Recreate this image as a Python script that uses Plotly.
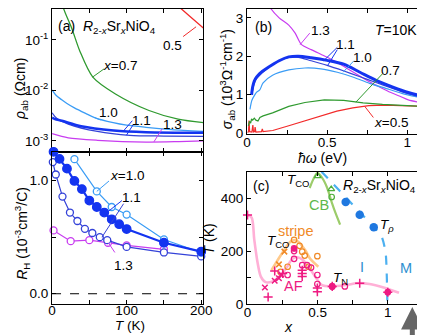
import math
import plotly.graph_objects as go

# ---------------- Panel (a): rho_ab vs T (log) ----------------
T_a05 = [168, 185, 204]
rho_a05 = [0.48, 0.29, 0.165]
T_a07 = [10, 15.6, 26.5, 37.3, 54.7, 85, 130, 169, 203]
rho_a07 = [0.9, 0.41, 0.168, 0.0598, 0.0183, 0.0085, 0.0040, 0.0027, 0.0023]
T_a10 = [0, 5, 13, 20, 30, 45, 57, 82, 100, 126, 160, 203]
rho_a10 = [0.0102, 0.0081, 0.0065, 0.0055, 0.0045, 0.0035, 0.0029, 0.0023, 0.00205, 0.00186, 0.00168, 0.00154]
T_a11a = [0, 4, 13, 39, 82.5, 126, 203]
rho_a11a = [0.0029, 0.0027, 0.00251, 0.00195, 0.00161, 0.00149, 0.00145]
T_a11b = [0, 6.5, 21.7, 60.8, 104, 150, 203]
rho_a11b = [0.00361, 0.00277, 0.00216, 0.00154, 0.00129, 0.00125, 0.00123]
T_a13 = [0, 21.7, 60.8, 126, 170, 203]
rho_a13 = [0.00139, 0.00115, 0.00103, 0.00095, 0.00097, 0.00100]

# ---------------- Panel (RH): Hall coefficient vs T ----------------
T_h10 = [30, 60, 80, 100, 150, 200]
RH_10 = [1.19, 0.905, 0.767, 0.70, 0.48, 0.365]
T_h11a = [2, 10, 20, 30, 40, 50, 60, 70, 80, 90, 100, 150, 200]
RH_11a = [1.255, 1.192, 1.106, 0.997, 0.925, 0.824, 0.767, 0.718, 0.658, 0.615, 0.572, 0.451, 0.373]
T_h11b = [1, 5, 14, 24, 34, 44, 54, 64, 74, 100, 150, 200]
RH_11b = [1.164, 1.054, 0.859, 0.718, 0.643, 0.574, 0.537, 0.50, 0.474, 0.414, 0.365, 0.33]
T_h13 = [2, 25, 50, 75, 100, 150]
RH_13 = [0.56, 0.465, 0.474, 0.451, 0.428, 0.393]

# ---------------- Panel (b): sigma_ab vs photon energy ----------------
E_b13 = [0.13, 0.15, 0.2, 0.26, 0.3, 0.34, 0.4, 0.46, 0.5, 0.563, 0.6, 0.664, 0.7, 0.764, 0.8, 0.885, 0.95, 1.006, 1.1]
S_b13 = [3.4, 3.23, 3.0, 2.81, 2.6, 2.30, 2.17, 2.05, 1.97, 1.835, 1.74, 1.58, 1.49, 1.33, 1.25, 1.07, 0.96, 0.86, 0.78]
E_b11a = [0.028, 0.035, 0.045, 0.059, 0.08, 0.119, 0.16, 0.2, 0.26, 0.32, 0.4, 0.5, 0.603, 0.704, 0.805, 0.906, 1.006, 1.1]
S_b11a = [0.99, 1.2, 1.35, 1.45, 1.55, 1.67, 1.78, 1.88, 1.98, 2.0, 1.96, 1.89, 1.79, 1.58, 1.37, 1.2, 1.05, 0.95]
E_b11b = [0.03, 0.045, 0.06, 0.09, 0.12, 0.2, 0.26, 0.32, 0.4, 0.5, 0.6, 0.7, 0.8, 0.9, 1.0, 1.1]
S_b11b = [1.0, 1.3, 1.42, 1.55, 1.66, 1.88, 1.97, 1.97, 1.88, 1.76, 1.62, 1.47, 1.32, 1.17, 1.03, 0.92]
E_b10 = [0.018, 0.03, 0.048, 0.06, 0.079, 0.1, 0.159, 0.26, 0.361, 0.46, 0.563, 0.664, 0.764, 0.865, 0.966, 1.1]
S_b10 = [0.61, 0.85, 0.99, 1.06, 1.12, 1.3, 1.5, 1.64, 1.69, 1.67, 1.58, 1.45, 1.29, 1.16, 1.03, 0.90]
E_b07 = [0.008, 0.015, 0.022, 0.028, 0.035, 0.045, 0.055, 0.068, 0.08, 0.1, 0.159, 0.26, 0.361, 0.482, 0.603, 0.724, 0.845, 0.966, 1.1]
S_b07 = [0.18, 0.3, 0.25, 0.36, 0.33, 0.38, 0.33, 0.31, 0.40, 0.44, 0.52, 0.69, 0.79, 0.86, 0.845, 0.78, 0.74, 0.71, 0.69]
E_b05 = [0.004, 0.009, 0.012, 0.016, 0.03, 0.036, 0.04, 0.047, 0.05, 0.055, 0.09, 0.095, 0.1, 0.16, 0.26, 0.36, 0.46, 0.56, 0.66, 0.76, 0.86, 0.97, 1.1]
S_b05 = [0.0, 0.04, 0.32, 0.03, 0.02, 0.2, 0.02, 0.03, 0.15, 0.02, 0.03, 0.1, 0.03, 0.06, 0.185, 0.31, 0.44, 0.565, 0.65, 0.71, 0.72, 0.71, 0.69]

# ---------------- Panel (c): phase diagram ----------------
x_AF = [0, 0.03, 0.048, 0.071, 0.095, 0.129, 0.175, 0.228, 0.274, 0.32, 0.355, 0.39, 0.436, 0.482, 0.528, 0.6, 0.69, 0.78, 0.87, 0.97, 1.08]
T_AF = [336, 326, 244, 159, 104, 83, 85, 104, 134, 171, 177, 169, 141, 104, 73, 67, 71, 79, 76, 63, 43]
x_str = [0.171, 0.228, 0.274, 0.305, 0.332, 0.36, 0.413, 0.447, 0.505]
T_str = [128, 177, 214, 235, 242, 236, 202, 171, 141]
x_CB = [0.443, 0.47, 0.498, 0.53, 0.567, 0.6, 0.63, 0.66]
T_CB = [438, 472, 495, 478, 440, 385, 340, 300]
x_Trho = [0.528, 0.6, 0.7, 0.8, 0.897, 0.954, 0.984, 0.992, 0.996, 0.997]
T_Trho = [499, 459, 403, 347, 293, 257, 196, 122, 37, 0]

x_pink_plus = [0.0, 0.147, 0.194, 0.251, 0.39, 0.39, 0.39, 0.498, 0.498, 0.604, 0.8, 1.0]
T_pink_plus = [336, 27, 125, 116, 128, 116, 104, 61, 47, 67, 79, 45]
x_pink_cross = [0.124, 0.194, 0.224, 0.24]
T_pink_cross = [63, 88, 98, 112]
x_pink_open = [0.286, 0.332, 0.332, 0.39, 0.424, 0.453, 0.498, 0.498, 0.604, 0.694]
T_pink_open = [110, 200, 171, 147, 147, 138, 110, 76, 67, 67]
x_pink_fill = [0.332, 0.604, 1.0]
T_pink_fill = [210, 67, 45]
x_or_cross = [0.224, 0.263]
T_or_cross = [150, 198]
x_or_open = [0.235, 0.286, 0.332, 0.371, 0.39, 0.408, 0.436, 0.498]
T_or_open = [122, 141, 242, 220, 198, 183, 141, 181]
x_gr_tri = [0.5, 0.597]
T_gr_tri = [483, 434]
x_gr_open = [0.6]
T_gr_open = [404]
x_Trho_pts = [0.7, 0.8, 0.9]
T_Trho_pts = [385, 337, 290]

# colours
RED = "#f22a2a"
GREEN = "#2f9a2f"
LBLUE = "#3a9cf5"
BLUE = "#1434f0"
BLUE2 = "#3442d8"
MAG = "#c83cf0"
PINK = "#ee1a82"
ORANGE = "#f08a28"
GRN2 = "#5db84a"
TBLUE = "#2f8fd0"

FONT = "Liberation Sans, Arial, sans-serif"
fig = go.Figure()

def line(x, y, color, w, xa, ya, shape="spline", dash=None):
    fig.add_trace(go.Scatter(x=x, y=y, mode="lines", xaxis=xa, yaxis=ya,
                             line=dict(color=color, width=w, shape=shape, dash=dash,
                                       smoothing=0.8 if shape == "spline" else None),
                             showlegend=False, hoverinfo="skip"))

# panel a
line(T_a05, rho_a05, RED, 1.3, "x", "y")
line(T_a07, rho_a07, GREEN, 1.3, "x", "y")
line(T_a10, rho_a10, LBLUE, 1.3, "x", "y")
line(T_a11b, rho_a11b, BLUE2, 1.3, "x", "y")
line(T_a13, rho_a13, MAG, 1.3, "x", "y")
line(T_a11a, rho_a11a, BLUE, 2.6, "x", "y")

# panel RH
def mline(x, y, color, w, sym, size, fill=False):
    fig.add_trace(go.Scatter(x=x, y=y, mode="lines+markers", xaxis="x2", yaxis="y2",
                             line=dict(color=color, width=w),
                             marker=dict(symbol=sym, size=size, color=color if fill else "white",
                                         line=dict(color=color, width=1.3)),
                             cliponaxis=False, showlegend=False, hoverinfo="skip"))

mline(T_h13, RH_13, MAG, 1.2, "circle", 7)
mline(T_h11b, RH_11b, BLUE2, 1.2, "circle", 7)
mline(T_h10, RH_10, LBLUE, 1.2, "circle", 7)
mline(T_h11a, RH_11a, BLUE, 2.2, "circle", 8.5, fill=True)

# panel b
line(E_b05, S_b05, RED, 1.2, "x3", "y3", shape="linear")
line(E_b07, S_b07, GREEN, 1.2, "x3", "y3", shape="linear")
line(E_b13, S_b13, MAG, 1.2, "x3", "y3")
line(E_b10, S_b10, LBLUE, 1.2, "x3", "y3")
line(E_b11b, S_b11b, BLUE2, 1.2, "x3", "y3")
line(E_b11a, S_b11a, BLUE, 3.0, "x3", "y3")

# panel c
line(x_AF, T_AF, "#ffb0d6", 2.6, "x4", "y4")
line(x_str, T_str, "#ffc98a", 2.6, "x4", "y4")
line(x_CB, T_CB, "#9ccc6a", 2.2, "x4", "y4")
line(x_Trho, T_Trho, "#4cb0f0", 2.2, "x4", "y4", dash="dash")

def pts(x, y, color, sym, size, lw=1.2):
    fig.add_trace(go.Scatter(x=x, y=y, mode="markers", xaxis="x4", yaxis="y4",
                             marker=dict(symbol=sym, size=size, color=color,
                                         line=dict(color=color, width=lw)),
                             cliponaxis=False, showlegend=False, hoverinfo="skip"))

pts(x_or_cross, T_or_cross, ORANGE, "x-thin-open", 5.5, 1.5)
pts(x_or_open, T_or_open, ORANGE, "circle-open", 5.5)
pts(x_pink_cross, T_pink_cross, PINK, "x-thin-open", 5.5, 1.5)
pts(x_pink_plus, T_pink_plus, PINK, "cross-thin-open", 6.5, 1.5)
pts(x_pink_open, T_pink_open, PINK, "circle-open", 5.5)
pts(x_pink_fill, T_pink_fill, PINK, "circle", 5.5)
pts(x_gr_tri, T_gr_tri, "#4cae3c", "triangle-up-open", 6)
pts(x_gr_open, T_gr_open, "#4cae3c", "circle-open", 5.5)
pts(x_Trho_pts, T_Trho_pts, "#1f78e0", "circle", 8.5, 0)

# ---------------- axes ----------------
tickfont = dict(family=FONT, size=13.5, color="black")
common = dict(showline=True, linecolor="black", linewidth=1, mirror="ticks", ticks="inside",
              ticklen=4, tickcolor="black", tickwidth=1, showgrid=False, zeroline=False,
              tickfont=tickfont)
minor = lambda d: dict(dtick=d, ticks="inside", ticklen=4, tickcolor="black", tickwidth=1, showgrid=False)
XA = [0.0972, 0.4647]
XB = [0.5706, 0.9965]
fig.update_layout(
    xaxis=dict(domain=XA, range=[0, 203], anchor="y", tick0=0, dtick=50,
               showticklabels=False, **common),
    yaxis=dict(domain=[0.5627, 1.0], type="log", range=[-3.21, -0.39], anchor="x",
               tickvals=[0.001, 0.01, 0.1],
               ticktext=["10<sup>-3</sup>", "10<sup>-2</sup>", "10<sup>-1</sup>"], **common),
    xaxis2=dict(domain=XA, range=[0, 203], anchor="y2", tick0=0, dtick=100, minor=minor(50),
                ticklabelstandoff=-6, **common),
    yaxis2=dict(domain=[0.0946, 0.5627], range=[-0.092, 1.257], anchor="x2",
                tick0=0, dtick=1, tickformat=".1f", minor=minor(0.5), **common),
    xaxis3=dict(domain=XB, range=[0, 1.095], anchor="y3", tickvals=[0, 0.5, 1.0],
                ticktext=["0", "0.5", "1"], minor=minor(0.25), ticklabelstandoff=-4, **common),
    yaxis3=dict(domain=[0.6179, 1.0], range=[-0.02, 3.23], anchor="x3",
                tick0=0, dtick=1, **common),
    xaxis4=dict(domain=XB, range=[-0.003, 1.248], anchor="y4", tickvals=[0, 0.5, 1.0],
                ticktext=["0", "0.5", "1"], minor=minor(0.25), ticklabelstandoff=-4, **common),
    yaxis4=dict(domain=[0.0946, 0.5006], range=[0, 499], anchor="x4",
                tick0=0, dtick=200, minor=minor(100), **common),
    width=425, height=335, margin=dict(l=0, r=0, t=0, b=0),
    paper_bgcolor="white", plot_bgcolor="white",
    font=dict(family=FONT, size=13.5, color="black"),
)

# zero line in RH panel
fig.add_shape(type="line", xref="x2 domain", yref="y2", x0=0, x1=1, y0=0, y1=0,
              line=dict(color="black", width=1, dash="dash"))

ann = []
def txt(text, x, y, xref="paper", yref="paper", size=13.5, color="black", angle=0,
        xanchor="center", yanchor="middle"):
    ann.append(dict(text=text, x=x, y=y, xref=xref, yref=yref, showarrow=False,
                    font=dict(family=FONT, size=size, color=color), textangle=angle,
                    xanchor=xanchor, yanchor=yanchor))

def leader(x0, y0, x1, y1, xref, yref, color):
    fig.add_shape(type="line", xref=xref, yref=yref, x0=x0, y0=y0, x1=x1, y1=y1,
                  line=dict(color=color, width=1))

NIO = "<i>R</i><sub>2-<i>x</i></sub>Sr<sub><i>x</i></sub>NiO<sub>4</sub>"

# axis titles
txt("<i>ρ</i><sub>ab</sub> (Ωcm)", 0.022, 0.755, angle=-90, size=14)
txt("<i>R</i><sub>H</sub> (10<sup>-3</sup>cm<sup>3</sup>/C)", 0.024, 0.313, angle=-90, size=14)
txt("<i>T</i> (K)", 0.287, 0.0, size=13.5, yanchor="bottom")
txt("<i>σ</i><sub>ab</sub> (10<sup>3</sup>Ω<sup>-1</sup>cm<sup>-1</sup>)", 0.522, 0.785, angle=-90, size=14)
txt("<i>ħω</i> (eV)", 0.753, 0.542, size=14)
txt("<i>T</i> (K)", 0.478, 0.296, angle=-90, size=14)
txt("<i>x</i>", 0.671, 0.024, size=14)

# panel (a) labels
txt("(a)  " + NIO, 0.106, 0.946, xanchor="left", size=14)
L = math.log10
txt("0.5", 161.6, -1.115, "x", "y")
leader(175.7, 0.116, 193.1, 0.181, "x", "y", RED)
txt("<i>x</i>=0.7", 91.6, L(0.0309), "x", "y")
leader(69.5, 0.0265, 54.3, 0.0183, "x", "y", GREEN)
txt("1.0", 75.7, -2.44, "x", "y")
leader(65, 0.0026, 57, 0.0029, "x", "y", LBLUE)
txt("1.1", 120, -2.60, "x", "y")
leader(107.6, 0.00251, 95.5, 0.00156, "x", "y", BLUE)
leader(109.3, 0.00216, 99.8, 0.0013, "x", "y", BLUE)
txt("1.3", 161.6, -2.665, "x", "y")
leader(147.6, 0.00174, 136.6, 0.00096, "x", "y", MAG)

# RH labels
txt("<i>x</i>=1.0", 100.5, 1.048, "x2", "y2")
leader(76.4, 0.997, 60, 0.905, "x2", "y2", LBLUE)
txt("1.1", 107, 0.853, "x2", "y2")
leader(93.7, 0.824, 72, 0.71, "x2", "y2", BLUE)
leader(95.9, 0.796, 66.9, 0.50, "x2", "y2", BLUE2)
txt("1.3", 95.9, 0.25, "x2", "y2")
leader(84.2, 0.365, 75.5, 0.451, "x2", "y2", MAG)

# panel (b) labels
txt("(b)", 0.6106, 0.945, size=14)
txt("<i>T</i>=10K", 0.9318, 0.935, size=14)
txt("1.3", 0.457, 2.68, "x3", "y3")
leader(0.391, 2.60, 0.331, 2.30, "x3", "y3", MAG)
txt("1.1", 0.614, 2.30, "x3", "y3")
leader(0.563, 2.23, 0.478, 1.88, "x3", "y3", BLUE)
leader(0.563, 2.17, 0.502, 1.75, "x3", "y3", BLUE)
txt("1.0", 0.723, 1.96, "x3", "y3")
leader(0.667, 1.88, 0.599, 1.58, "x3", "y3", LBLUE)
txt("0.7", 0.895, 1.62, "x3", "y3")
leader(0.845, 1.54, 0.679, 0.80, "x3", "y3", GREEN)
txt("<i>x</i>=0.5", 0.898, 0.27, "x3", "y3")
leader(0.788, 0.40, 0.734, 0.69, "x3", "y3", RED)

# panel (c) labels
txt("(c)", 0.6047, 0.4567, size=14)
txt(NIO, 0.8918, 0.4567, size=14)
txt("<i>T</i><sub>CO</sub>", 0.36, 468, "x4", "y4")
txt("CB", 0.512, 372, "x4", "y4", size=14.5, color=GRN2)
txt("<i>T</i><sub><i>ρ</i></sub>", 0.998, 298, "x4", "y4")
txt("stripe", 0.342, 275, "x4", "y4", size=14.5, color=ORANGE)
txt("<i>T</i><sub>CO</sub>", 0.214, 235, "x4", "y4")
txt("AF", 0.325, 67, "x4", "y4", size=14.5, color=PINK)
txt("<i>T</i><sub>N</sub>", 0.66, 95, "x4", "y4")
txt("I", 0.816, 140, "x4", "y4", size=14.5, color=TBLUE)
txt("M", 1.127, 137, "x4", "y4", size=14.5, color=TBLUE)

ann.append(dict(x=1.175, y=0.086, xref="x4", yref="paper", ax=0, ay=34, axref="pixel",
                text="", showarrow=True, arrowhead=2, arrowsize=0.9, arrowwidth=5,
                arrowcolor="#666666"))

fig.update_layout(annotations=ann)
fig.write_html("out.html")
